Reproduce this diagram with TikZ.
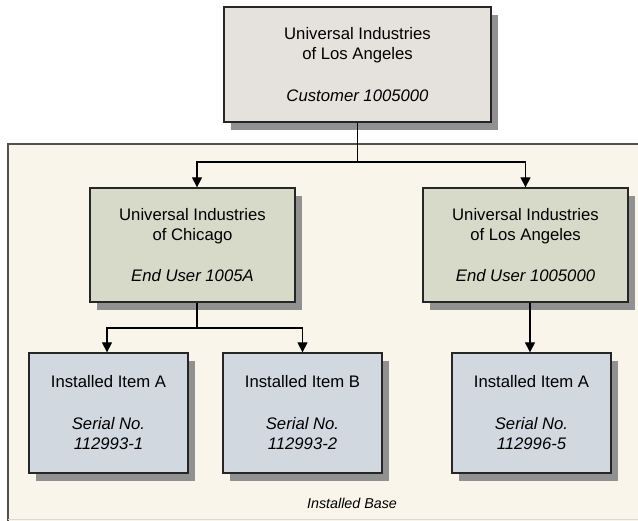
\documentclass[tikz,border=0pt]{standalone}
\usepackage{fontspec}
\setmainfont{Liberation Sans}
\usetikzlibrary{shadows,arrows.meta}

\definecolor{custfill}{RGB}{229,226,222}
\definecolor{userfill}{RGB}{216,218,201}
\definecolor{itemfill}{RGB}{209,216,224}
\definecolor{basefill}{RGB}{249,245,235}
\definecolor{shadowgray}{RGB}{145,145,145}
\definecolor{edgegray}{RGB}{80,80,80}

\tikzset{
  box/.style={draw=black!85, line width=1.3pt, inner sep=0pt, align=center,
    font=\fontsize{16.7pt}{20pt}\selectfont,
    drop shadow={shadow xshift=7pt, shadow yshift=-8pt, fill=shadowgray, opacity=1}},
  custbox/.style={box, fill=custfill, minimum width=267pt, minimum height=115pt},
  userbox/.style={box, fill=userfill, minimum width=205pt, minimum height=114pt},
  itembox/.style={box, fill=itemfill, minimum width=159pt, minimum height=120pt},
  conn/.style={line width=1.2pt, black},
  arr/.style={conn, -{Triangle[length=10pt,width=10pt]}},
}

\begin{document}
\begin{tikzpicture}[x=1pt, y=-1pt]
\useasboundingbox (0,0) rectangle (638,521);

% installed-base panel
\fill[basefill] (8,144) rectangle (638,521);
\draw[edgegray, line width=1.5pt] (8,521) -- (8,144) -- (638,144);
\draw[black!15, line width=1pt] (8,519.5) -- (638,519.5);
\node[font=\fontsize{14.3pt}{17pt}\selectfont\itshape] (baselabel) at (352,503) {Installed Base};

% customer
\node[custbox] (cust) at (357.5,64.5)
  {Universal Industries\\of Los Angeles\\[22pt]\textit{Customer 1005000}};

% end users
\node[userbox] (chi) at (192.5,245)
  {Universal Industries\\of Chicago\\[21pt]\textit{End User 1005A}};
\node[userbox] (la) at (525.5,245)
  {Universal Industries\\of Los Angeles\\[21pt]\textit{End User 1005000}};

% installed items
\node[itembox] (itemA) at (108.5,413)
  {Installed Item A\\[22pt]\textit{Serial No.}\\\textit{112993-1}};
\node[itembox] (itemB) at (302.5,413)
  {Installed Item B\\[22pt]\textit{Serial No.}\\\textit{112993-2}};
\node[itembox] (itemC) at (531.5,413)
  {Installed Item A\\[22pt]\textit{Serial No.}\\\textit{112996-5}};

% connectors
\coordinate (busTop) at (357.5,162);
\coordinate (busChi) at (197,328);
\draw[conn] (cust.south) -- (busTop);
\draw[arr] (busTop) -| ([xshift=4.5pt]chi.north);
\draw[arr] (busTop) -| (la.north);
\draw[conn] ([xshift=4.5pt]chi.south) -- (busChi);
\draw[arr] (busChi) -| ([xshift=-1.5pt]itemA.north);
\draw[arr] (busChi) -| (itemB.north);
\draw[arr] ([xshift=4.5pt]la.south) -- ([xshift=-1.5pt]itemC.north);
\end{tikzpicture}
\end{document}
